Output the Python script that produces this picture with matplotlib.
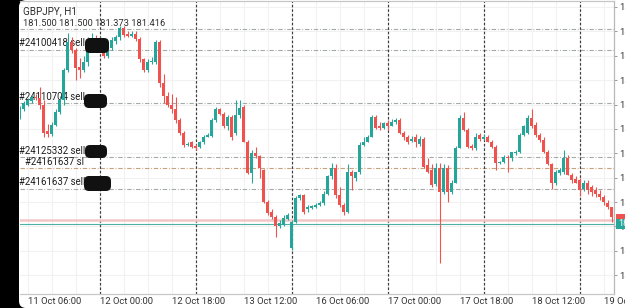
import matplotlib
matplotlib.use('Agg')
import matplotlib.pyplot as plt
from matplotlib.patches import FancyBboxPatch, Rectangle
from matplotlib.transforms import IdentityTransform, blended_transform_factory
import numpy as np

plt.rcParams['font.family'] = ['Roboto', 'DejaVu Sans']

# GBPJPY H1 bars, 11 Oct 04:00 -> 19 Oct 08:00 (weekend skipped)
opens = [182.24, 182.30, 182.34, 182.37, 182.40, 182.39, 182.34, 182.12, 182.10, 182.17,
         182.28, 182.38, 182.62, 182.85, 182.79, 182.65, 182.62, 182.69, 182.85, 182.87,
         182.83, 182.82, 182.74, 182.80, 182.86, 182.89, 182.97, 182.92, 182.90, 182.92,
         182.88, 182.71, 182.62, 182.69, 182.69, 182.85, 182.52, 182.41, 182.34, 182.30,
         182.21, 182.11, 182.01, 182.03, 182.00, 181.99, 182.03, 182.07, 182.08, 182.21,
         182.30, 182.26, 182.16, 182.24, 182.11, 182.25, 182.32, 182.03, 181.78, 181.94,
         181.92, 181.80, 181.54, 181.46, 181.42, 181.34, 181.35, 181.40, 181.16, 181.38,
         181.57, 181.60, 181.48, 181.49, 181.50, 181.52, 181.53, 181.61, 181.75, 181.82,
         181.60, 181.52, 181.46, 181.79, 181.74, 181.79, 182.01, 182.03, 182.07, 182.24,
         182.16, 182.15, 182.19, 182.16, 182.20, 182.21, 182.11, 182.07, 182.04, 182.07,
         182.02, 182.06, 181.84, 181.80, 181.69, 181.82, 181.62, 181.82, 181.62, 181.70,
         181.98, 182.23, 182.13, 182.00, 181.98, 182.09, 182.06, 182.07, 182.03, 181.99,
         181.86, 181.87, 181.91, 181.90, 181.94, 181.95, 182.09, 182.11, 182.23, 182.17,
         182.09, 182.05, 181.95, 181.85, 181.70, 181.78, 181.79, 181.90, 181.76, 181.73,
         181.72, 181.65, 181.70, 181.66, 181.64, 181.61, 181.58, 181.53, 181.500]
highs = [182.33, 182.37, 182.39, 182.42, 182.43, 182.48, 182.38, 182.18, 182.20, 182.30,
         182.41, 182.64, 182.93, 182.89, 182.80, 182.72, 182.74, 182.89, 182.93, 182.91,
         182.89, 182.85, 182.83, 182.89, 182.91, 182.98, 182.98, 182.94, 182.94, 182.94,
         182.89, 182.72, 182.71, 182.73, 182.87, 182.87, 182.59, 182.44, 182.43, 182.40,
         182.23, 182.12, 182.03, 182.04, 182.02, 182.04, 182.09, 182.11, 182.23, 182.32,
         182.31, 182.28, 182.25, 182.25, 182.38, 182.38, 182.34, 182.05, 181.97, 181.99,
         181.93, 181.81, 181.56, 181.48, 181.43, 181.39, 181.43, 181.45, 181.39, 181.59,
         181.61, 181.61, 181.52, 181.52, 181.53, 181.55, 181.63, 181.76, 181.86, 181.85,
         181.66, 181.53, 181.85, 181.80, 181.79, 182.03, 182.07, 182.09, 182.25, 182.25,
         182.20, 182.20, 182.21, 182.22, 182.23, 182.23, 182.12, 182.09, 182.08, 182.10,
         182.08, 182.07, 181.90, 181.85, 181.86, 181.86, 181.85, 181.84, 181.72, 182.00,
         182.25, 182.28, 182.15, 182.02, 182.11, 182.11, 182.10, 182.09, 182.05, 182.01,
         181.88, 181.93, 181.93, 181.95, 181.97, 182.11, 182.17, 182.25, 182.30, 182.20,
         182.11, 182.07, 181.97, 181.86, 181.80, 181.82, 181.97, 181.93, 181.78, 181.75,
         181.74, 181.72, 181.72, 181.68, 181.66, 181.64, 181.60, 181.56, 181.500]
lows = [182.22, 182.29, 182.33, 182.35, 182.38, 182.30, 182.07, 182.07, 182.08, 182.16,
        182.26, 182.34, 182.61, 182.76, 182.54, 182.56, 182.61, 182.66, 182.82, 182.80,
        182.79, 182.72, 182.72, 182.79, 182.84, 182.87, 182.89, 182.89, 182.89, 182.86,
        182.69, 182.61, 182.61, 182.67, 182.67, 182.48, 182.35, 182.32, 182.27, 182.19,
        182.09, 181.99, 182.00, 181.98, 181.97, 181.98, 182.02, 182.07, 182.07, 182.20,
        182.25, 182.15, 182.13, 182.05, 182.09, 182.23, 182.03, 181.77, 181.70, 181.90,
        181.74, 181.53, 181.43, 181.40, 181.25, 181.33, 181.34, 181.39, 181.15, 181.37,
        181.56, 181.44, 181.46, 181.48, 181.49, 181.51, 181.52, 181.60, 181.73, 181.57,
        181.50, 181.43, 181.45, 181.64, 181.71, 181.77, 182.00, 182.03, 182.07, 182.14,
        182.13, 182.14, 182.13, 182.16, 182.18, 182.10, 182.05, 182.02, 182.03, 181.99,
        182.00, 181.82, 181.78, 181.66, 181.67, 181.04, 181.61, 181.54, 181.61, 181.70,
        181.98, 182.12, 181.98, 181.97, 181.97, 182.04, 182.05, 182.03, 181.98, 181.80,
        181.85, 181.86, 181.79, 181.88, 181.93, 181.94, 182.08, 182.10, 182.15, 182.07,
        182.03, 181.94, 181.84, 181.65, 181.68, 181.76, 181.77, 181.76, 181.70, 181.70,
        181.59, 181.63, 181.61, 181.59, 181.58, 181.56, 181.52, 181.48, 181.373]
closes = [182.31, 182.35, 182.38, 182.40, 182.39, 182.34, 182.11, 182.10, 182.17, 182.28,
          182.38, 182.62, 182.85, 182.79, 182.64, 182.62, 182.69, 182.85, 182.87, 182.83,
          182.84, 182.74, 182.81, 182.87, 182.89, 182.97, 182.91, 182.90, 182.92, 182.88,
          182.71, 182.62, 182.69, 182.70, 182.85, 182.52, 182.41, 182.34, 182.30, 182.21,
          182.11, 182.01, 182.02, 181.99, 181.98, 182.03, 182.07, 182.09, 182.21, 182.30,
          182.26, 182.16, 182.24, 182.07, 182.25, 182.31, 182.03, 181.78, 181.94, 181.92,
          181.82, 181.54, 181.45, 181.42, 181.34, 181.37, 181.41, 181.43, 181.38, 181.57,
          181.60, 181.46, 181.50, 181.51, 181.52, 181.53, 181.61, 181.75, 181.82, 181.60,
          181.52, 181.46, 181.79, 181.75, 181.79, 182.01, 182.03, 182.07, 182.24, 182.15,
          182.15, 182.19, 182.16, 182.20, 182.20, 182.11, 182.07, 182.03, 182.06, 182.03,
          182.06, 181.83, 181.79, 181.68, 181.82, 181.62, 181.82, 181.62, 181.70, 181.98,
          182.23, 182.13, 181.99, 181.98, 182.07, 182.06, 182.07, 182.03, 181.99, 181.86,
          181.87, 181.91, 181.90, 181.95, 181.95, 182.09, 182.16, 182.23, 182.16, 182.09,
          182.05, 181.95, 181.85, 181.70, 181.79, 181.80, 181.90, 181.76, 181.72, 181.70,
          181.64, 181.70, 181.64, 181.62, 181.61, 181.58, 181.54, 181.50, 181.416]

tick_pos = [2, 20, 38, 56, 74, 92, 110, 128, 146]
tick_labels = ['11 Oct 06:00', '12 Oct 00:00', '12 Oct 18:00', '13 Oct 12:00', '16 Oct 06:00',
               '17 Oct 00:00', '17 Oct 18:00', '18 Oct 12:00', '19 Oct 06:00']
day_starts = [20, 44, 68, 92, 116, 140]

price_ticks = [183.14, 182.94, 182.74, 182.54, 182.34, 182.14, 181.94, 181.74,
               181.54, 181.34, 181.14, 180.94]

order_prices = [182.79, 182.35, 181.91, 181.65]
order_labels = ['#24100418 sell', '#24110704 sell', '#24125332 sell', '#24161637 sell']
sl_price = 181.82
sl_label = '#24161637 sl'
top_line = 182.96
ask_price = 181.39
bid_price = 181.36

title = 'GBPJPY, H1'
ohlc_text = '181.500 181.500 181.373 181.416'

UP = '#26a69a'
DOWN = '#ef5350'
W, H = 625, 308


def fx(x):
    return x / W


def fy(y):
    return 1 - y / H


fig = plt.figure(figsize=(W / 100, H / 100), dpi=100, facecolor='black')
# white screen area with rounded left corners
screen = FancyBboxPatch((19, 0), 660, H, boxstyle='round,pad=0,rounding_size=7',
                        transform=IdentityTransform(), facecolor='white', edgecolor='none',
                        zorder=-5)
fig.add_artist(screen)

ax = fig.add_axes([fx(20), 14 / H, fx(614) - fx(20), 293 / H])
ax.set_facecolor('none')

o = np.array(opens)
h = np.array(highs)
l = np.array(lows)
c = np.array(closes)
x = np.arange(len(o))
colors = np.where(c >= o, UP, DOWN)

ax.vlines(x, l, h, colors=colors, linewidth=0.8, zorder=3)
body = np.maximum(np.abs(c - o), 0.009)
ax.bar(x, body, bottom=np.minimum(o, c), width=0.74, color=colors, linewidth=0, zorder=4)

ax.set_xlim(0.125, 148.625)
ax.set_ylim(180.786, 183.189)

# faint grid
for p in price_ticks:
    ax.axhline(p, color='#f1f1f1', lw=0.8, zorder=0)
for xv in range(2, 149, 6):
    ax.axvline(xv, color='#f1f1f1', lw=0.8, zorder=0)

# period separators
for d in day_starts:
    ax.axvline(d, color='#3c3c3c', lw=0.85, linestyle=(0, (2.2, 1.6)), zorder=2)

# order lines
dashdot = (0, (4.0, 1.6, 0.8, 1.6))
ax.axhline(top_line, color='#a4aca6', lw=0.8, linestyle=dashdot, zorder=1)
tr = blended_transform_factory(ax.transAxes, ax.transData)
for p, lab in zip(order_prices, order_labels):
    ax.axhline(p, color='#a4aca6', lw=0.8, linestyle=dashdot, zorder=1)
    ax.text(-0.001, p + 0.011, lab, transform=tr, ha='left', va='bottom',
            fontsize=6.9, color='#1e1e1e', zorder=2)
ax.axhline(sl_price, color='#c9a27c', lw=0.8, linestyle=dashdot, zorder=1)
ax.text(0.009, sl_price + 0.011, sl_label, transform=tr, ha='left', va='bottom',
        fontsize=6.9, color='#1e1e1e', zorder=2)

# bid / ask
ax.axhline(ask_price, color='#f2c6c6', lw=1.8, zorder=2)
ax.axhline(bid_price, color='#4fb0a6', lw=0.8, zorder=2)

# axes style
ax.spines['left'].set_visible(False)
ax.spines['top'].set_color('#c6c6c6')
ax.spines['right'].set_color('#b8b8b8')
ax.spines['bottom'].set_color('#c8c8c8')
for s in ['top', 'right', 'bottom']:
    ax.spines[s].set_linewidth(0.9)

ax.yaxis.tick_right()
ax.set_yticks(price_ticks)
ax.set_yticklabels([f'{p:.3f}' for p in price_ticks])
ax.tick_params(axis='y', length=2.5, width=0.7, color='#999999', pad=1,
               labelsize=6.8, labelcolor='#333333')
ax.set_xticks(tick_pos)
ax.set_xticklabels(tick_labels)
ax.tick_params(axis='x', length=0, pad=2.5, labelsize=6.8, labelcolor='#333333')
for t in ax.get_xticklabels():
    t.set_ha('left')

# price tags on the axis
fig.add_artist(Rectangle((616, H - 221), 20, 7, transform=IdentityTransform(),
                         facecolor=DOWN, edgecolor='none'))
fig.add_artist(Rectangle((616, H - 229), 20, 10, transform=IdentityTransform(),
                         facecolor=UP, edgecolor='none'))
fig.text(fx(618), fy(224), f'{bid_price:.3f}', color='white', fontsize=6.6,
         ha='left', va='center')

# header
fig.text(fx(23), fy(11), title, fontsize=7.1, color='#2e2e2e', ha='left', va='center')
fig.text(fx(23), fy(23), ohlc_text, fontsize=6.7, color='#2e2e2e', ha='left', va='center')

# redaction blobs
for (x0, y0, x1, y1) in [(85, 38, 109, 53), (84, 94, 107, 108), (85, 145, 107, 158),
                         (84, 176, 111, 191)]:
    fig.add_artist(FancyBboxPatch((x0, H - y1), x1 - x0, y1 - y0,
                                  boxstyle='round,pad=0,rounding_size=5',
                                  transform=IdentityTransform(), facecolor='#111111',
                                  edgecolor='none', zorder=10))

fig.savefig('out.png', dpi=100, facecolor='black')
